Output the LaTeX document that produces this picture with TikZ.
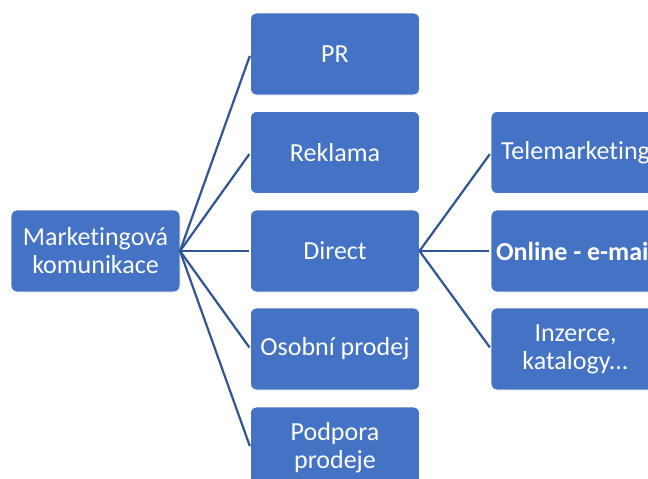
\documentclass[tikz,border=0pt]{standalone}
\usepackage{fontspec}
\setmainfont{Carlito}[Ligatures={NoCommon}]
\begin{document}
\definecolor{boxblue}{RGB}{68,114,196}
\definecolor{linkblue}{RGB}{47,85,151}
\begin{tikzpicture}[x=1pt,y=-1pt,
  card/.style={rectangle, rounded corners=6pt, fill=boxblue, draw=white, line width=0.8pt,
    minimum width=169pt, minimum height=82pt, inner sep=2pt, outer sep=0pt,
    text=white, align=center, font=\fontsize{26}{28}\selectfont},
  link/.style={draw=linkblue, line width=2.2pt, shorten >=2pt}]
  \clip (0,0) rectangle (648,479);
  \fill[white] (0,0) rectangle (648,479);

  % root
  \node[card] (root) at (95.5,251) {Marketingová\\komunikace};

  % first level
  \node[card] (pr)      at (335,54)  {PR};
  \node[card] (reklama) at (335,152.5) {Reklama};
  \node[card] (direct)  at (335,251) {Direct};
  \node[card] (osobni)  at (335,349) {Osobní prodej};
  \node[card] (podpora) at (335,448) {Podpora\\prodeje};

  % second level under Direct
  \node[card] (tele)    at (575.5,152.5) {Telemarketing};
  \node[card] (online)  at (575.5,251) {\bfseries Online - e-mail};
  \node[card] (inzerce) at (575.5,349) {Inzerce,\\katalogy...};

  % connectors
  \foreach \t in {pr,reklama,direct,osobni,podpora}
    \draw[link] (root.east) -- (\t.west);
  \foreach \t in {tele,online,inzerce}
    \draw[link] (direct.east) -- (\t.west);
\end{tikzpicture}
\end{document}
